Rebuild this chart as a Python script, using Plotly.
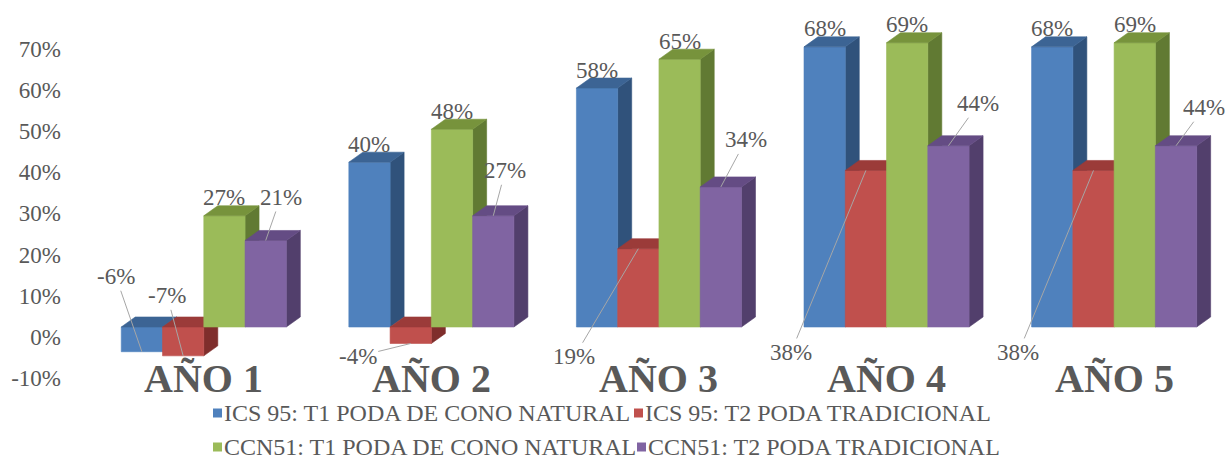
import plotly.graph_objects as go

# ---------------- data ----------------
categories = ["AÑO 1", "AÑO 2", "AÑO 3", "AÑO 4", "AÑO 5"]
series_names = [
    "ICS 95: T1 PODA DE CONO NATURAL",
    "ICS 95: T2 PODA TRADICIONAL",
    "CCN51: T1 PODA DE CONO NATURAL",
    "CCN51: T2 PODA TRADICIONAL",
]
ics95_t1 = [-6, 40, 58, 68, 68]
ics95_t2 = [-7, -4, 19, 38, 38]
ccn51_t1 = [27, 48, 65, 69, 69]
ccn51_t2 = [21, 27, 34, 44, 44]
y_ticks = [-10, 0, 10, 20, 30, 40, 50, 60, 70]

# ---------------- style ----------------
series_values = [ics95_t1, ics95_t2, ccn51_t1, ccn51_t2]
front_colors = ["#4F81BD", "#C0504D", "#9BBB59", "#8064A2"]
top_colors = ["#3C6494", "#9B3B39", "#77933C", "#644C84"]
side_colors = ["#30527B", "#7F2E2C", "#617A33", "#523F6C"]
text_color = "#595959"
FONT = "Liberation Serif"

W, H = 1227, 461
M_L, M_R, M_T, M_B = 90, 0, 5, 61
X_RANGE = [-0.5, 4.496]
Y_RANGE = [-17.72, 78.16]

GROUP_W = 0.7253          # fraction of category occupied by 4 bars
BAR_W = GROUP_W / 4
DX = 0.0615               # depth offset (x, category units)
DY = 2.43                 # depth offset (y, value units)
TICK_SHIFT = -2.4         # axis labels sit on the back wall

# label placement per series / category: None -> label above bar,
# (ax, ay) -> label offset in px with a leader line
label_offsets = [
    [(-26, -75), None, None, None, None],
    [(-16, -60), (-53, 13), (-64, 108), (-75, 182), (-75, 182)],
    [None, None, None, None, None],
    [(15, -43), (12, -45), (25, -47), (30, -42), (28, -38)],
]
# legend item positions (px from left, px from top)
legend_pos = [(213, 413), (634, 413), (213, 447), (637, 447)]

plot_w = W - M_L - M_R
plot_h = H - M_T - M_B


def px_to_paper(px, py):
    return (px - M_L) / plot_w, (H - M_B - py) / plot_h


fig = go.Figure()

for j, vals in enumerate(series_values):
    fx, fy, tx, ty, sx, sy = [], [], [], [], [], []
    for i, v in enumerate(vals):
        xl = i - GROUP_W / 2 + j * BAR_W
        xr = xl + BAR_W
        yb, yt = min(0, v), max(0, v)
        fx += [xl, xr, xr, xl, xl, None]
        fy += [yb, yb, yt, yt, yb, None]
        tx += [xl, xr, xr + DX, xl + DX, xl, None]
        ty += [yt, yt, yt + DY, yt + DY, yt, None]
        sx += [xr, xr + DX, xr + DX, xr, xr, None]
        sy += [yb, yb + DY, yt + DY, yt, yb, None]
    for xs, ys, col in ((sx, sy, side_colors[j]), (fx, fy, front_colors[j]), (tx, ty, top_colors[j])):
        fig.add_trace(go.Scatter(
            x=xs, y=ys, fill="toself", mode="lines",
            line=dict(width=0.6, color=col), fillcolor=col,
            hoverinfo="skip", showlegend=False, name=series_names[j],
        ))

# value labels
for j, vals in enumerate(series_values):
    for i, v in enumerate(vals):
        xc = i - GROUP_W / 2 + (j + 0.5) * BAR_W
        off = label_offsets[j][i]
        txt = f"{v}%"
        if off is None:
            fig.add_annotation(x=xc, y=v, text=txt, showarrow=False, yshift=18,
                               font=dict(family=FONT, size=23, color=text_color))
        else:
            fig.add_annotation(x=xc, y=v, text=txt, showarrow=True, ax=off[0], ay=off[1],
                               arrowhead=0, arrowwidth=1, arrowcolor="#A6A6A6", standoff=0,
                               font=dict(family=FONT, size=23, color=text_color))

# category labels
for i, c in enumerate(categories):
    fig.add_annotation(x=i, y=-12.6, text=f"<b>{c}</b>", showarrow=False,
                       font=dict(family=FONT, size=40, color=text_color))

# legend (squares + text)
for j, name in enumerate(series_names):
    px, py = legend_pos[j]
    xp, yp = px_to_paper(px, py)
    fig.add_shape(type="rect", xref="paper", yref="paper",
                  xsizemode="pixel", ysizemode="pixel",
                  xanchor=xp, yanchor=yp, x0=0, x1=9, y0=-4.5, y1=4.5,
                  fillcolor=front_colors[j], line=dict(width=0))
    xt, _ = px_to_paper(px + 9, py)
    fig.add_annotation(xref="paper", yref="paper", x=xt, y=yp, text=name,
                       showarrow=False, xanchor="left", yanchor="middle",
                       font=dict(family=FONT, size=24, color=text_color))

fig.update_layout(
    width=W, height=H,
    margin=dict(l=M_L, r=M_R, t=M_T, b=M_B, autoexpand=False),
    paper_bgcolor="white", plot_bgcolor="white",
    xaxis=dict(range=X_RANGE, showgrid=False, zeroline=False,
               showticklabels=False, showline=False, fixedrange=True),
    yaxis=dict(range=Y_RANGE, showgrid=False, zeroline=False, showline=False,
               tickvals=[t + TICK_SHIFT for t in y_ticks],
               ticktext=[f"{t}%" for t in y_ticks],
               ticks="", ticklabelstandoff=28,
               tickfont=dict(family=FONT, size=23, color=text_color)),
    showlegend=False,
)

fig.write_html("out.html")
